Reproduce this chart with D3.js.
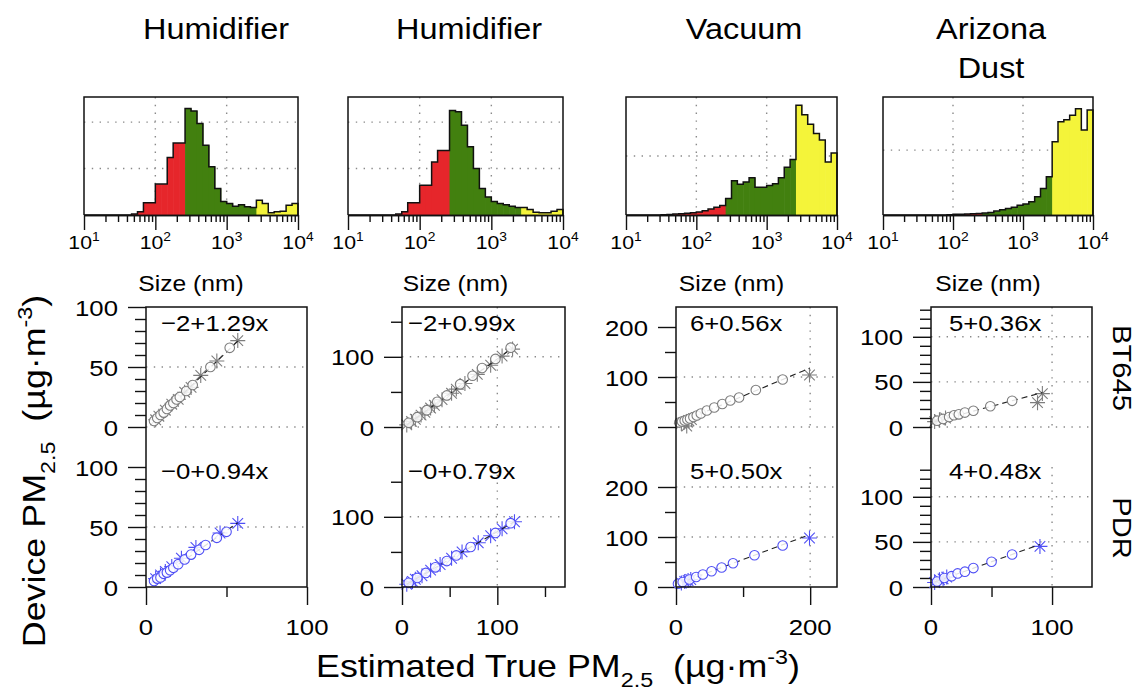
<!DOCTYPE html>
<html>
<head>
<meta charset="utf-8">
<script src="https://cdnjs.cloudflare.com/ajax/libs/d3/7.8.5/d3.min.js"></script>
<style>
  body { margin: 0; background: #fff; }
  svg text { font-family: "Liberation Sans", Arial, Helvetica, sans-serif; fill: #000; }
</style>
</head>
<body>
<svg id="chart" width="1138" height="698"></svg>
<script>
// ---- data ----
var titles = [["Humidifier"], ["Humidifier"], ["Vacuum"], ["Arizona", "Dust"]];
var rowLabels = ["BT645", "PDR"];

// size distributions: 12 bins per decade, 10 nm .. 10 um
var binsPerDecade = 12;
var sizeMin = 10;
var pm1Cut = 250, pm25Cut = 2500;   // nm, red | green | yellow
var histHumid1 = [0,0,0,0,0,0,0,0,0.02,0.07,0.265,0.265,0.665,0.665,1.24,1.55,1.55,2.29,2.24,1.97,1.50,1.04,0.57,0.29,0.25,0.19,0.22,0.18,0.16,0.32,0.25,0.05,0.07,0.08,0.21,0.25];
var histHumid2 = [0,0,0,0,0,0,0,0,0.02,0.07,0.265,0.265,0.64,0.64,1.14,1.39,1.39,2.25,2.22,1.93,1.47,1.00,0.57,0.39,0.29,0.25,0.22,0.19,0.16,0.16,0.12,0.06,0.05,0.05,0.08,0.12];
var histVacuum = [0,0,0,0,0,0,0.005,0.01,0.015,0.02,0.03,0.04,0.05,0.07,0.10,0.13,0.16,0.28,0.58,0.52,0.56,0.63,0.47,0.47,0.50,0.53,0.63,0.81,0.94,1.86,1.70,1.54,1.38,1.27,0.90,1.05];
var histDust = [0,0,0,0,0,0,0,0,0,0,0,0.005,0.01,0.01,0.015,0.02,0.025,0.03,0.04,0.06,0.08,0.10,0.12,0.15,0.17,0.205,0.28,0.41,0.59,1.13,1.44,1.47,1.54,1.64,1.31,1.62];
var hists = [histHumid1, histHumid2, histVacuum, histDust];
var histMax = [2.54, 2.54, 2.0, 1.82];
var histGrid = [[1, 2], [1, 2], [1], [1]];
var sizeTicks = [10, 100, 1000, 10000];

// device vs. true PM2.5, [true, device]
var humid1BTcircles = [[5,5],[7,7.5],[9,10],[11,12],[13,15],[15,18],[17,20],[19,23],[21,25],[25,30],[29,35],[40,50],[52,66]];
var humid1BTstars = [[6,6],[8,9],[12,14],[16,19],[20,23],[24,29],[28,33],[34,43],[44,55],[57,72]];
var humid1PDRcircles = [[5,5],[7,7],[9,8],[11,11],[13,12],[15,14],[17,16],[20,19],[24,23],[28,27],[33,31],[37,35],[44,41],[50,46]];
var humid1PDRstars = [[6,7],[9,10],[12,13],[16,17],[22,24],[31,33],[46,45],[57,53]];

var humid2BTcircles = [[7,6],[16,14],[26,24],[37,36],[47,45],[61,61],[74,73],[84,84],[98,97],[114,113]];
var humid2BTstars = [[5,3],[10,8],[14,11],[20,17],[24,21],[30,27],[34,31],[42,39],[52,48],[57,54],[66,62],[79,75],[93,88],[105,101],[116,111]];
var humid2PDRcircles = [[7,6],[16,13],[25,20],[35,28],[47,37],[57,45],[72,57],[98,77],[114,91]];
var humid2PDRstars = [[5,4],[11,8],[14,11],[21,16],[30,24],[40,32],[52,41],[63,50],[80,63],[93,73],[105,83],[118,93]];

var vacuumBTcircles = [[5,9],[9,11],[13,13],[17,15],[21,17],[26,20],[31,23],[37,27],[46,33],[57,39],[69,46],[81,53],[94,59],[119,74],[159,95]];
var vacuumBTstars = [[8,7],[12,9],[16,2],[19,13],[23,15],[199,104]];
var vacuumPDRcircles = [[3,6.5],[10,10],[20,15],[30,20],[40,25],[53,31.5],[68,39],[85,47.5],[117,63.5],[159,83]];
var vacuumPDRstars = [[8,8],[13,11],[18,13],[22,15],[199,98]];

var dustBTcircles = [[5,7],[10,9],[15,11],[19,13],[23,14],[28,16],[35,18],[49,23],[67,29]];
var dustBTstars = [[3,6],[7,8],[12,10],[88,27],[92,37]];
var dustPDRcircles = [[5,6],[11,10],[17,12],[22,15],[28,17],[35,21],[50,28],[67,36]];
var dustPDRstars = [[3,5],[7,8],[10,9],[13,11],[90,45]];

var fitBT = [[-2, 1.29], [-2, 0.99], [6, 0.56], [5, 0.36]];
var fitPDR = [[-0, 0.94], [-0, 0.79], [5, 0.50], [4, 0.48]];
var fitTextBT = ["\u22122+1.29x", "\u22122+0.99x", "6+0.56x", "5+0.36x"];
var fitTextPDR = ["\u22120+0.94x", "\u22120+0.79x", "5+0.50x", "4+0.48x"];

var axisMax = [100, 171, 240, 133];
var yMajor = [[0, 50, 100], [0, 100], [0, 100, 200], [0, 50, 100]];
var yMinor = [[10,20,30,40,60,70,80,90], [50, 150], [50, 150], [10,20,30,40,60,70,80,90,110,120,130]];
var xMajor = [[0, 100], [0, 100], [0, 200], [0, 100]];
var xMinor = [[50], [50, 150], [100], [50]];
var gridTopY = [[0, 50], [0, 100], [0, 100], [0, 50, 100]];
var gridBotY = [[50], [100], [100, 200], [50, 100]];
var gridX = [[], [100], [200], [100]];

// ---- layout ----
var SX = 1.12;  // the original font is wider than Liberation Sans
var histX = [[84, 298], [348, 563], [626, 837], [883, 1093]];
var histTop = 97, histBase = 215;
var scatX = [[146, 307], [402, 565], [676, 837], [931, 1092]];
var rowY = [[307, 427], [467, 587]];
var titleX = [216, 469, 744, 991];
var eqDx = [15, 6, 14, 18];

var red = "#e6262b", green = "#42800f", yellow = "#f4f43a";
var svg = d3.select("#chart");

function rich(g, x, y, parts, size, anchor, rot) {
  var t = g.append("text")
    .attr("transform", "translate(" + x + "," + y + ")" + (rot ? " rotate(" + rot + ")" : "") + " scale(" + SX + ",1)")
    .attr("text-anchor", anchor || "start")
    .style("font-size", size + "px");
  var shift = 0;
  parts.forEach(function (p) {
    if (typeof p === "string") p = [p, ""];
    var off = p[1] === "sub" ? size * 0.32 : p[1] === "sup" ? -size * 0.42 : 0;
    t.append("tspan").attr("dy", off - shift)
      .style("font-size", (p[1] ? size * 0.65 : size) + "px").text(p[0]);
    shift = off;
  });
  return t;
}

function dotted(g, x1, y1, x2, y2) {
  g.append("line").attr("x1", x1).attr("y1", y1).attr("x2", x2).attr("y2", y2)
    .attr("stroke", "#8a8a8a").attr("stroke-width", 1.4).attr("stroke-dasharray", "1.4,6.4");
}

function starPath(r) {
  var a = r * 0.7071;
  return "M" + (-r) + ",0H" + r + "M0," + (-r) + "V" + r +
    "M" + (-a) + "," + (-a) + "L" + a + "," + a + "M" + (-a) + "," + a + "L" + a + "," + (-a);
}

// titles
titles.forEach(function (lines, c) {
  lines.forEach(function (s, i) { rich(svg, titleX[c], 39 + i * 39, [s], 29, "middle"); });
});

// ---- size distributions ----
hists.forEach(function (h, c) {
  var g = svg.append("g");
  var x = d3.scaleLog().domain([10, 10000]).range(histX[c]);
  var y = d3.scaleLinear().domain([0, histMax[c]]).range([histBase, histTop]);
  var edge = function (i) { return sizeMin * Math.pow(10, i / binsPerDecade); };

  sizeTicks.slice(1, 3).forEach(function (v) { dotted(g, x(v), histTop, x(v), histBase); });
  histGrid[c].forEach(function (v) { dotted(g, histX[c][0], y(v), histX[c][1], y(v)); });

  g.selectAll("rect.bin").data(h).enter().append("rect")
    .attr("x", function (d, i) { return x(edge(i)); })
    .attr("width", function (d, i) { return x(edge(i + 1)) - x(edge(i)) + 0.6; })
    .attr("y", function (d) { return y(d); })
    .attr("height", function (d) { return y(0) - y(d); })
    .attr("fill", function (d, i) {
      var mid = Math.sqrt(edge(i) * edge(i + 1));
      return mid < pm1Cut ? red : mid < pm25Cut ? green : yellow;
    });

  var path = "M" + x(edge(0)) + "," + y(0);
  h.forEach(function (d, i) { path += "V" + y(d) + "H" + x(edge(i + 1)); });
  path += "V" + y(0);
  g.append("path").attr("d", path).attr("fill", "none").attr("stroke", "#111").attr("stroke-width", 1.5);

  g.append("path")
    .attr("d", "M" + histX[c][0] + "," + histBase + "V" + histTop + "H" + histX[c][1] + "V" + histBase)
    .attr("fill", "none").attr("stroke", "#111").attr("stroke-width", 1.5);

  var minor = [];
  [10, 100, 1000].forEach(function (d) { for (var k = 2; k < 10; k++) minor.push(d * k); });
  var ax = g.append("g").attr("transform", "translate(0," + histBase + ")");
  ax.call(d3.axisBottom(x).tickValues(sizeTicks).tickSize(15).tickSizeOuter(0).tickFormat(""));
  ax.append("g").call(d3.axisBottom(x).tickValues(minor).tickSize(7).tickSizeOuter(0).tickFormat(""));
  ax.selectAll("line").attr("stroke", "#111").attr("stroke-width", 1.4);
  ax.selectAll(".domain").attr("stroke", "#111").attr("stroke-width", 1.5);

  sizeTicks.forEach(function (v) {
    rich(g, x(v), 249, ["10", [String(Math.round(Math.log10(v))), "sup"]], 19, "middle");
  });
  rich(g, (histX[c][0] + histX[c][1]) / 2, 291, ["Size (nm)"], 22, "middle");
});

// ---- device vs. true ----
var circleSets = [[humid1BTcircles, humid1PDRcircles], [humid2BTcircles, humid2PDRcircles],
  [vacuumBTcircles, vacuumPDRcircles], [dustBTcircles, dustPDRcircles]];
var starSets = [[humid1BTstars, humid1PDRstars], [humid2BTstars, humid2PDRstars],
  [vacuumBTstars, vacuumPDRstars], [dustBTstars, dustPDRstars]];
var rowColor = ["#7d7d7d", "#4f4ff5"];

scatX.forEach(function (xr, c) {
  var g = svg.append("g");
  var x = d3.scaleLinear().domain([0, axisMax[c]]).range(xr);

  [0, 1].forEach(function (r) {
    var y = d3.scaleLinear().domain([0, axisMax[c]]).range([rowY[r][1], rowY[r][0]]);
    var grids = r === 0 ? gridTopY[c] : gridBotY[c];
    grids.forEach(function (v) { dotted(g, xr[0], y(v), xr[1], y(v)); });
    gridX[c].forEach(function (v) { dotted(g, x(v), rowY[r][0], x(v), rowY[r][1]); });

    var ay = g.append("g").attr("transform", "translate(" + xr[0] + ",0)");
    ay.call(d3.axisLeft(y).tickValues(yMajor[c]).tickSize(18).tickSizeOuter(0).tickFormat(""));
    ay.append("g").call(d3.axisLeft(y).tickValues(yMinor[c]).tickSize(11).tickSizeOuter(0).tickFormat(""));
    ay.selectAll(".domain").remove();
    ay.selectAll("line").attr("stroke", "#111").attr("stroke-width", 1.4);
    yMajor[c].forEach(function (v) { rich(g, xr[0] - 28, y(v) + 8.5, [String(v)], 23, "end"); });

    var fit = r === 0 ? fitBT[c] : fitPDR[c];
    var pts = circleSets[c][r].concat(starSets[c][r]);
    var xs = d3.extent(pts, function (d) { return d[0]; });
    var col = rowColor[r];

    g.append("g").selectAll("path").data(starSets[c][r]).enter().append("path")
      .attr("transform", function (d) { return "translate(" + x(d[0]) + "," + y(d[1]) + ")"; })
      .attr("d", starPath(7.5)).attr("fill", "none").attr("stroke", col).attr("stroke-width", 1.1);

    g.append("line")
      .attr("x1", x(xs[0])).attr("y1", y(fit[0] + fit[1] * xs[0]))
      .attr("x2", x(xs[1])).attr("y2", y(fit[0] + fit[1] * xs[1]))
      .attr("stroke", "#222").attr("stroke-width", 1.1).attr("stroke-dasharray", "6,4");

    g.append("g").selectAll("circle").data(circleSets[c][r]).enter().append("circle")
      .attr("cx", function (d) { return x(d[0]); })
      .attr("cy", function (d) { return y(d[1]); })
      .attr("r", 4.8).attr("fill", "#fff").attr("fill-opacity", 0.85)
      .attr("stroke", col).attr("stroke-width", 1.1);

    var eq = r === 0 ? fitTextBT[c] : fitTextPDR[c];
    rich(g, xr[0] + eqDx[c], r === 0 ? 331 : 479, [eq], 23, "start");
  });

  // frame: top border, left & right sides, bottom axis
  g.append("path")
    .attr("d", "M" + xr[0] + "," + rowY[1][1] + "V" + rowY[0][0] + "H" + xr[1] + "V" + rowY[1][1] + "H" + xr[0])
    .attr("fill", "none").attr("stroke", "#111").attr("stroke-width", 1.5);

  var axg = g.append("g").attr("transform", "translate(0," + rowY[1][1] + ")");
  axg.call(d3.axisBottom(x).tickValues(xMajor[c]).tickSize(18).tickSizeOuter(0).tickFormat(""));
  axg.append("g").call(d3.axisBottom(x).tickValues(xMinor[c]).tickSize(10).tickSizeOuter(0).tickFormat(""));
  axg.selectAll(".domain").remove();
  axg.selectAll("line").attr("stroke", "#111").attr("stroke-width", 1.4);
  xMajor[c].forEach(function (v) { rich(g, x(v), 635, [String(v)], 23, "middle"); });
});

// row labels on the right
rowLabels.forEach(function (s, r) {
  rich(svg, 1113, (rowY[r][0] + rowY[r][1]) / 2 + 1, [s], 26, "middle", 90);
});

// axis titles
rich(svg, 45, 471, ["Device PM", ["2.5", "sub"], "\u00a0\u00a0(\u00b5g\u00b7m", ["-3", "sup"], ")"], 32, "middle", -90);
rich(svg, 558, 677, ["Estimated True PM", ["2.5", "sub"], "\u00a0\u00a0(\u00b5g\u00b7m", ["-3", "sup"], ")"], 32, "middle");
</script>
</body>
</html>
